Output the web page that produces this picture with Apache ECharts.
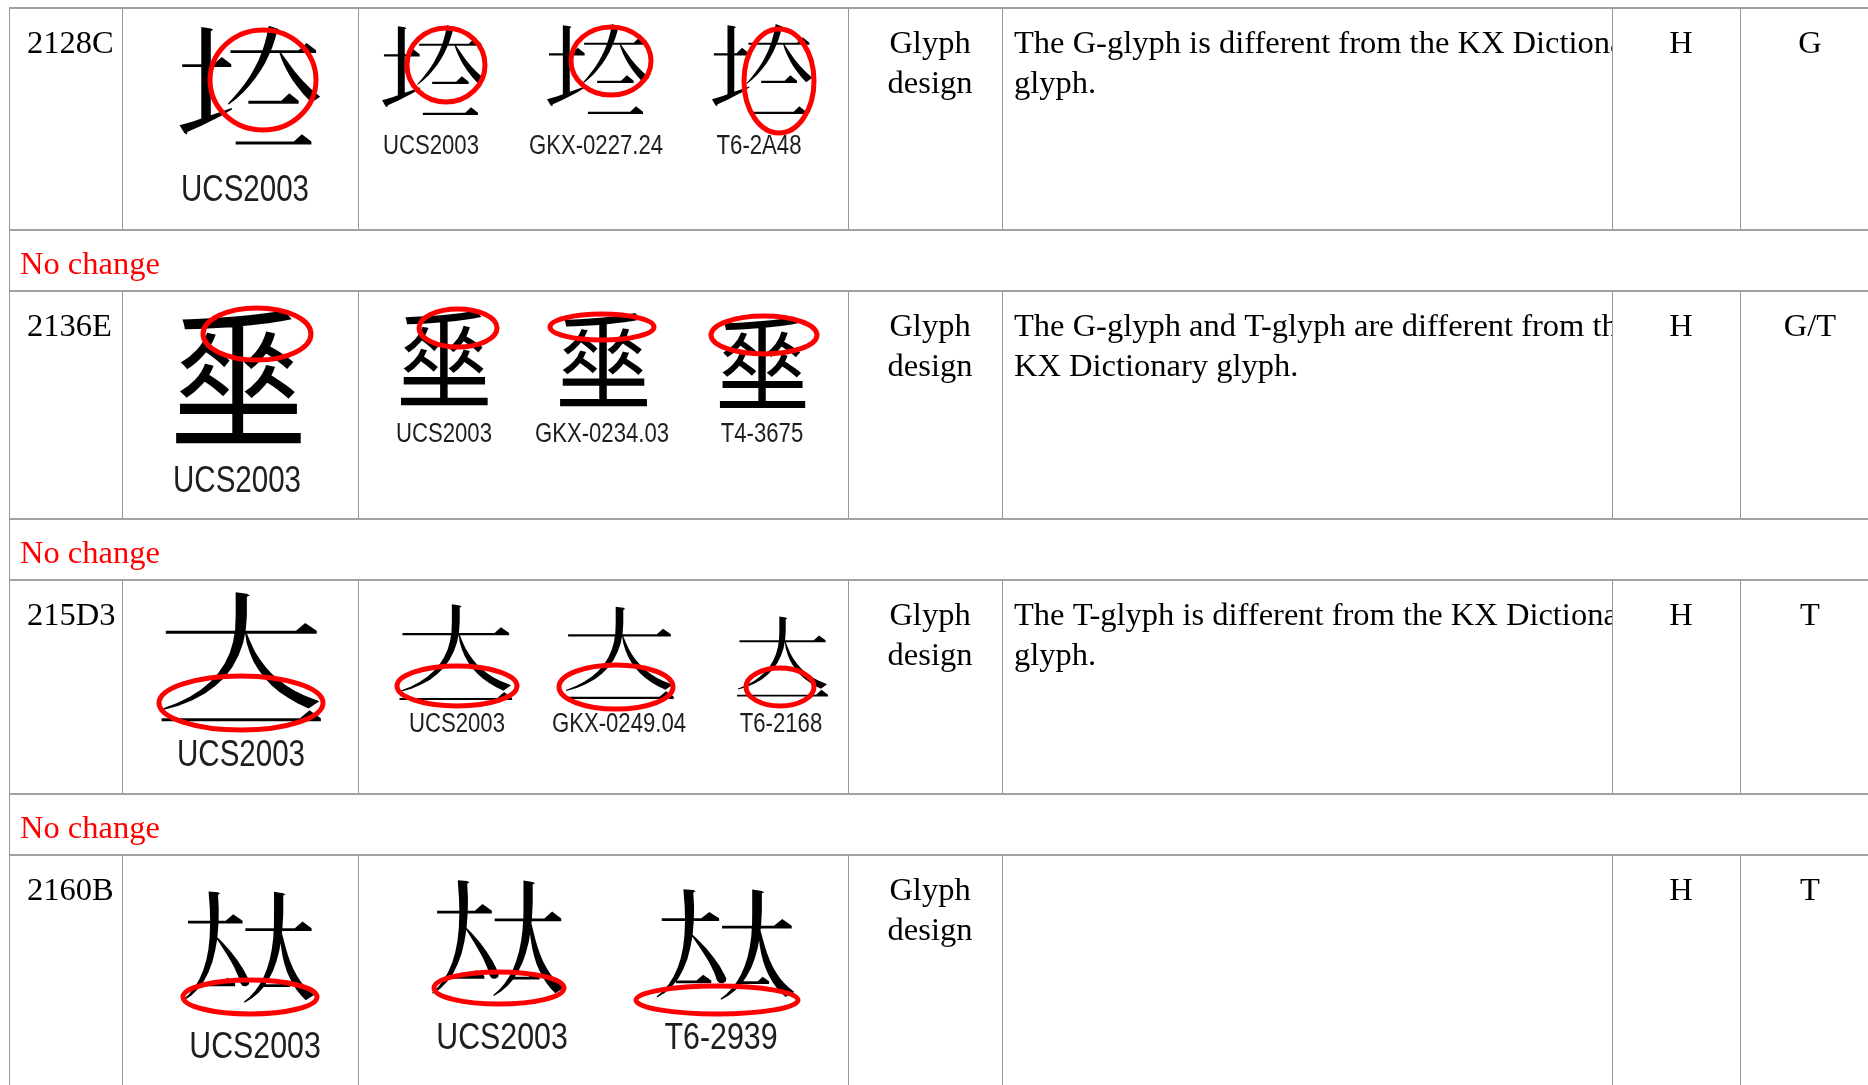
<!DOCTYPE html>
<html><head><meta charset="utf-8">
<script src="https://cdn.jsdelivr.net/npm/echarts@6/dist/echarts.min.js"></script>
<style>html,body{margin:0;padding:0;background:#fff;overflow:hidden}#c{width:1868px;height:1085px}</style>
</head><body><div id="c"></div>
<script>
// ---- data ----
const codes = ['2128C', '2136E', '215D3', '2160B'];
const glyphs = ['\u{2128C}', '\u{2136E}', '\u{215D3}', '\u{2160B}'];
const bigLabels = ['UCS2003', 'UCS2003', 'UCS2003', 'UCS2003'];
const sourceLabels = [
  ['UCS2003', 'GKX-0227.24', 'T6-2A48'],
  ['UCS2003', 'GKX-0234.03', 'T4-3675'],
  ['UCS2003', 'GKX-0249.04', 'T6-2168'],
  ['UCS2003', 'T6-2939']
];
const categories = ['Glyph\ndesign', 'Glyph\ndesign', 'Glyph\ndesign', 'Glyph\ndesign'];
const descriptions = [
  ['The G-glyph is different from the KX Dictionary', 'glyph.'],
  ['The G-glyph and T-glyph are different from the', 'KX Dictionary glyph.'],
  ['The T-glyph is different from the KX Dictionary', 'glyph.'],
  []
];
const hSource = ['H', 'H', 'H', 'H'];
const affected = ['G', 'G/T', 'T', 'T'];
const notes = ['No change', 'No change', 'No change'];

// ---- layout (pixels): [x, y, fontSize, scaleX] ----
const COLS = [9, 122, 358, 848, 1002, 1612, 1740, 1868];
const MAIN_ROWS = [[8, 230], [291, 519], [580, 794], [855, 1110]];
const NOTE_ROWS = [[230, 291], [519, 580], [794, 855]];
const LAYOUT = [
  { big: [250, 89, 139, 1.09], bigLab: [245, 191, 36],
    small: [[433, 73, 105, 1.05], [598, 72, 105, 1.05], [762, 72, 105, 1.03]], smallLab: [147, 27, [431, 596, 759]],
    ell: [[263, 80, 53, 50], [446, 65, 39, 37], [611, 61, 40, 34], [779, 81, 35, 52]] },
  { big: [238, 378, 152, 0.95], bigLab: [237, 482, 36],
    small: [[444, 359, 108, 0.93], [603, 361, 106, 0.95], [762, 363, 104, 0.95]], smallLab: [435, 27, [444, 602, 762]],
    ell: [[257, 334, 54, 26], [458, 328, 39, 19], [602, 327, 52, 13], [764, 335, 53, 19]] },
  { big: [241, 661, 148, 1.22], bigLab: [241, 756, 36],
    small: [[456, 655, 110, 1.16], [619, 656, 106, 1.16], [783, 659, 92, 1.12]], smallLab: [725, 27, [457, 619, 781]],
    ell: [[241, 703, 82, 27], [457, 686, 60, 20], [616, 687, 57, 22], [780, 687, 34, 19]] },
  { big: [247, 948, 125, 1.17], bigLab: [255, 1048, 37],
    small: [[496, 940, 130, 1.13], [724, 946, 124, 1.24]], smallLab: [1039, 37, [502, 721]],
    ell: [[250, 997, 67, 17], [499, 988, 65, 16], [717, 1000, 81, 14]] }
];
const SERIF = '"Liberation Serif","Times New Roman",serif';
const SANS = '"Liberation Sans",Arial,sans-serif';
const NARROW = 0.82;
const CJK = ['"Noto Sans CJK TC"', '"Noto Sans CJK SC"', '"Noto Sans CJK TC"'];
const GRID_V = '#969696', GRID_H = '#a2a2a2', RED = '#ff0000';
const TXT_DY = 2.5;
const FS = 32.5;

const chart = echarts.init(document.getElementById('c'), null, { renderer: 'canvas' });

function txt(p, text, x, y, o) {
  const c = p([x, y + (o.dy === undefined ? TXT_DY : o.dy)]);
  const el = { type: 'text', z2: o.z2 || 3, style: Object.assign({
    text: text, x: c[0], y: c[1], fill: o.fill || '#000', fontSize: o.size, fontFamily: o.font,
    align: o.align || 'center', verticalAlign: 'middle', lineHeight: o.lh || o.size }, o.extra || {}) };
  if (o.sx) { el.scaleX = o.sx; el.originX = c[0]; el.originY = c[1]; }
  return el;
}
function line(p, x1, y1, x2, y2, color, w) {
  const a = p([x1, y1]), b = p([x2, y2]);
  return { type: 'line', z2: 4, shape: { x1: a[0], y1: a[1], x2: b[0], y2: b[1] }, style: { stroke: color, lineWidth: w } };
}

function renderMain(params, api) {
  const i = api.value(0);
  const p = (v) => api.coord(v);
  const [top, bot] = MAIN_ROWS[i];
  const L = LAYOUT[i];
  const ch = [];
  const ty = top + 34;
  ch.push(txt(p, codes[i], 27, ty, { size: FS, font: SERIF, align: 'left' }));
  ch.push(txt(p, glyphs[i], L.big[0], L.big[1], { size: L.big[2], font: CJK[0], sx: L.big[3], dy: 0 }));
  ch.push(txt(p, bigLabels[i], L.bigLab[0], L.bigLab[1], { size: L.bigLab[2], font: SANS, fill: '#1e1e1e', sx: NARROW, dy: 0 }));
  sourceLabels[i].forEach((lab, k) => {
    const g = L.small[k];
    const fam = lab.startsWith('GKX') ? CJK[1] : CJK[0];
    ch.push(txt(p, glyphs[i], g[0], g[1], { size: g[2], font: fam, sx: g[3], dy: 0 }));
    ch.push(txt(p, lab, L.smallLab[2][k], L.smallLab[0], { size: L.smallLab[1], font: SANS, fill: '#1e1e1e', sx: NARROW, dy: 0 }));
  });
  L.ell.forEach(e => {
    const c = p([e[0], e[1]]);
    ch.push({ type: 'ellipse', z2: 5, shape: { cx: c[0], cy: c[1], rx: e[2], ry: e[3] },
      style: { fill: 'none', stroke: RED, lineWidth: 5 } });
  });
  ch.push(txt(p, categories[i], 930, ty + 20, { size: FS, lh: 40, font: SERIF }));
  descriptions[i].forEach((s, k) => {
    ch.push(txt(p, s, 1014, ty + k * 40, { size: FS, font: SERIF, align: 'left', z2: 1 }));
  });
  const r0 = p([COLS[5] + 1, top + 1]), r1 = p([COLS[6], bot]);
  ch.push({ type: 'rect', z2: 2, shape: { x: r0[0], y: r0[1], width: r1[0] - r0[0] - 1, height: r1[1] - r0[1] - 1 }, style: { fill: '#fff' } });
  ch.push(txt(p, hSource[i], 1681, ty, { size: FS, font: SERIF }));
  ch.push(txt(p, affected[i], 1810, ty, { size: FS, font: SERIF }));
  COLS.slice(0, 7).forEach(x => ch.push(line(p, x + 0.5, top, x + 0.5, bot, GRID_V, 1)));
  ch.push(line(p, COLS[0], top, COLS[7], top, GRID_H, 2));
  ch.push(line(p, COLS[0], bot, COLS[7], bot, GRID_H, 2));
  return { type: 'group', children: ch };
}

function renderNote(params, api) {
  const i = api.value(0);
  const p = (v) => api.coord(v);
  const [top, bot] = NOTE_ROWS[i];
  return { type: 'group', children: [
    txt(p, notes[i], 20, (top + bot) / 2 + 2, { size: FS, font: SERIF, align: 'left', fill: RED }),
    line(p, COLS[0] + 0.5, top, COLS[0] + 0.5, bot, GRID_V, 1)
  ] };
}

chart.setOption({
  animation: false,
  backgroundColor: '#fff',
  grid: { left: 0, right: 0, top: 0, bottom: 0 },
  xAxis: { type: 'value', min: 0, max: 1868, show: false },
  yAxis: { type: 'value', min: 0, max: 1085, inverse: true, show: false },
  series: [
    { type: 'custom', renderItem: renderMain, data: codes.map((c, i) => [i]), clip: false, silent: true },
    { type: 'custom', renderItem: renderNote, data: notes.map((c, i) => [i]), clip: false, silent: true }
  ]
});
</script></body></html>
